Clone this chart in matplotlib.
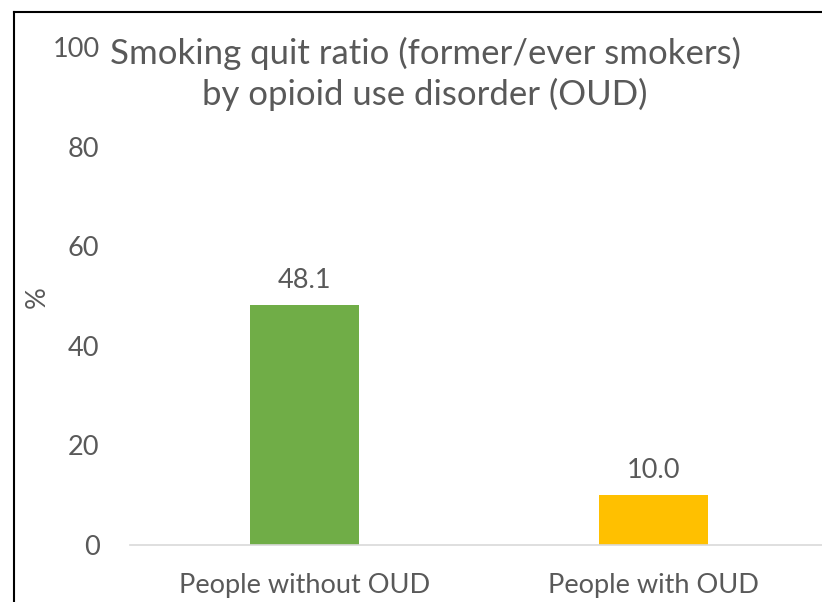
import matplotlib
matplotlib.use("Agg")
import matplotlib.pyplot as plt
from matplotlib.lines import Line2D

# Quit ratio by OUD status
categories = ["People without OUD", "People with OUD"]
quit_ratio = [48.1, 10.0]
bar_colors = ["#70ad47", "#ffc000"]
y_ticks = [0, 20, 40, 60, 80, 100]

text_color = "#595959"
plt.rcParams["font.family"] = ["Lato", "DejaVu Sans"]

fig = plt.figure(figsize=(8.22, 6.02), dpi=100)
ax = fig.add_axes([130 / 822, 1 - 545 / 602, 698 / 822, 498 / 602])

x = range(len(categories))
ax.bar(x, quit_ratio, width=0.31, color=bar_colors, zorder=2)
for xi, v in zip(x, quit_ratio):
    ax.annotate(f"{v:.1f}", (xi, v), xytext=(0, 9), textcoords="offset points",
                ha="center", va="bottom", fontsize=19.5, color=text_color)

ax.set_xlim(-0.5, 1.5)
ax.set_ylim(0, 100)
ax.set_yticks(y_ticks)
ax.set_xticks(list(x))
ax.set_xticklabels(categories)
ax.tick_params(axis="both", length=0, labelsize=19.5, labelcolor=text_color)
ax.tick_params(axis="x", pad=20)
ax.tick_params(axis="y", pad=22)
for side in ["top", "right", "left"]:
    ax.spines[side].set_visible(False)
ax.spines["bottom"].set_color("#d9d9d9")
ax.spines["bottom"].set_linewidth(1.2)

fig.text(37 / 822, 1 - 297 / 602, "%", rotation=90, ha="center", va="center",
         fontsize=19.5, color=text_color)
fig.text(425 / 822, 1 - 74 / 602,
         "Smoking quit ratio (former/ever smokers)\nby opioid use disorder (OUD)",
         ha="center", va="center", fontsize=25, color=text_color, linespacing=1.32)

# outer frame: only the left and top edges fall inside the image
left, top = 14 / 822, 1 - 12 / 602
fig.add_artist(Line2D([left, left], [0, top], transform=fig.transFigure,
                      color="black", linewidth=1.5))
fig.add_artist(Line2D([left, 1], [top, top], transform=fig.transFigure,
                      color="black", linewidth=1.5))

fig.savefig("out.png", dpi=100)
